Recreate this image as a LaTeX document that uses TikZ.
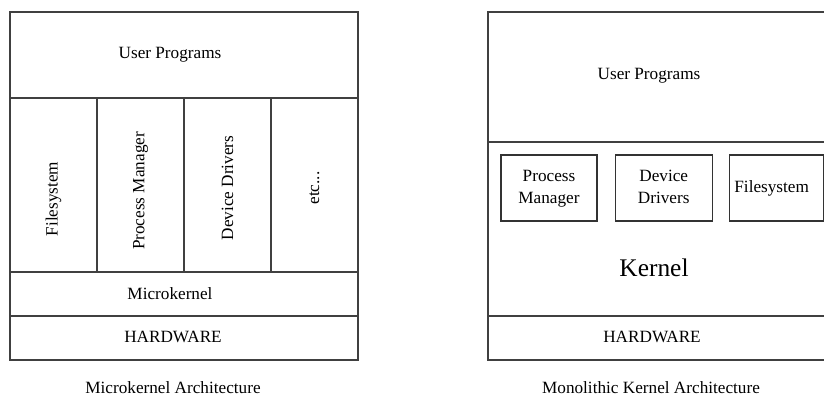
\documentclass[tikz,border=0pt]{standalone}
\usepackage{fontspec}
\setmainfont{Liberation Serif}
\usetikzlibrary{positioning}

\begin{document}
\begin{tikzpicture}[x=1pt, y=-1pt]
    \tikzstyle{frame} = [draw=black!75, line width=1.2pt]
    \tikzstyle{layer} = [font=\fontsize{17.2}{21.5}\selectfont, inner sep=0pt]
    \tikzstyle{vlayer} = [layer, rotate=90]
    \tikzstyle{module} = [rectangle, draw=black!80, line width=1.2pt,
    minimum height=66pt, align=center, inner sep=0pt,
    font=\fontsize{17.2}{21.5}\selectfont]
    \useasboundingbox (0,0) rectangle (824,396);
    % microkernel side
    \draw [frame] (10,12) rectangle (358,360);
    \draw [frame] (10,98) -- (358,98);
    \draw [frame] (10,272) -- (358,272);
    \draw [frame] (10,316) -- (358,316);
    \foreach \x in {97,184,271}
        \draw [frame] (\x,98) -- (\x,272);
    \node [layer] (userL) at (170,55) {User Programs};
    \node [vlayer] (fsL) at (53.5,199) {Filesystem};
    \node [vlayer] (pmL) at (140.5,191) {Process Manager};
    \node [vlayer] (ddL) at (227.5,188) {Device Drivers};
    \node [vlayer] (etcL) at (314.5,188) {etc...};
    \node [layer] (micro) at (170,294) {Microkernel};
    \node [layer] (hwL) at (173,337) {HARDWARE};
    \node [layer] (capL) at (173,388) {Microkernel Architecture};
    % monolithic side
    \draw [frame] (826,12) -- (488,12) -- (488,360) -- (826,360);
    \draw [frame] (488,142) -- (826,142);
    \draw [frame] (488,316) -- (826,316);
    \node [layer] (userR) at (649,76) {User Programs};
    \node [module, minimum width=96pt] (pmR) at (549,188)
    {Process\strut\\Manager\strut};
    \node [module, minimum width=97pt, right=17pt of pmR] (ddR)
    {Device\strut\\Drivers\strut};
    \node [module, text width=84pt, inner xsep=5pt, align=left,
    right=16pt of ddR] (fsR) {Filesystem\strut};
    \node [layer, font=\fontsize{25.4}{30}\selectfont] (kernel) at (654,268) {Kernel};
    \node [layer] (hwR) at (652,337) {HARDWARE};
    \node [layer] (capR) at (651,388) {Monolithic Kernel Architecture};
\end{tikzpicture}
\end{document}
